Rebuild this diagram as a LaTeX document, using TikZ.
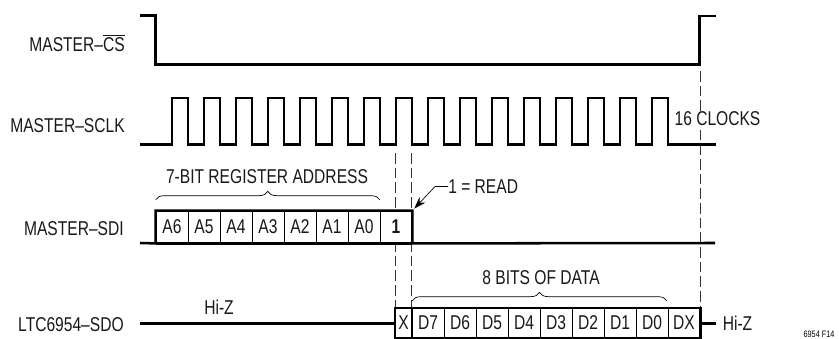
\documentclass[tikz,border=0pt]{standalone}
\usepackage{fontspec}
\setmainfont[FakeStretch=0.78]{Liberation Sans}
\usetikzlibrary{arrows.meta,decorations.pathreplacing}
\tikzset{
  sigline/.style={line width=1.9pt, black},
  guide/.style={line width=0.5pt, dash pattern=on 8pt off 3pt, black!80},
  label/.style={font=\fontsize{15}{17}\selectfont, inner sep=0pt, text=black!90},
  siglabel/.style={label, anchor=east},
  bitcell/.style={label, draw, fill=white, line width=0.6pt, minimum width=24pt, minimum height=24pt},
  sdocell/.style={bitcell, minimum height=22pt},
  bracket/.style={line width=0.5pt, decorate, decoration={brace, amplitude=6.5pt}},
}
\begin{document}
\begin{tikzpicture}[x=0.75pt,y=-0.75pt]
\useasboundingbox (0,0) rectangle (839,339);
% signal names
\node[siglabel] (csname) at (125,43) {MASTER–$\overline{\mbox{CS}}$};
\node[siglabel] (sclkname) at (125,126) {MASTER–SCLK};
\node[siglabel] (sdiname) at (124,229) {MASTER–SDI};
\node[siglabel] (sdoname) at (124,325) {LTC6954–SDO};
% dashed guides
\coordinate (guideA) at (395.5,153);
\coordinate (guideAend) at (395.5,307);
\coordinate (guideB) at (411.5,153);
\coordinate (guideBend) at (411.5,307);
\coordinate (guideC) at (700,71);
\coordinate (guideCend) at (700,307);
\draw[guide] (guideA) -- (guideAend);
\draw[guide] (guideB) -- (guideBend);
\draw[guide] (guideC) -- (guideCend);
% waveforms
\draw[sigline] (140,15.5) -- (155.5,15.5) -- (155.5,64.5) -- (699.5,64.5) -- (699.5,16) -- (716,16);
\draw[sigline] (140,144.5) -- (172,144.5) -- (172,98) -- (188,98) -- (188,144.5) -- (204,144.5) -- (204,98) -- (220,98) -- (220,144.5) -- (236,144.5) -- (236,98) -- (252,98) -- (252,144.5) -- (268,144.5) -- (268,98) -- (284,98) -- (284,144.5) -- (300,144.5) -- (300,98) -- (316,98) -- (316,144.5) -- (332,144.5) -- (332,98) -- (348,98) -- (348,144.5) -- (364,144.5) -- (364,98) -- (380,98) -- (380,144.5) -- (396,144.5) -- (396,98) -- (412,98) -- (412,144.5) -- (428,144.5) -- (428,98) -- (444,98) -- (444,144.5) -- (460,144.5) -- (460,98) -- (476,98) -- (476,144.5) -- (492,144.5) -- (492,98) -- (508,98) -- (508,144.5) -- (524,144.5) -- (524,98) -- (540,98) -- (540,144.5) -- (556,144.5) -- (556,98) -- (572,98) -- (572,144.5) -- (588,144.5) -- (588,98) -- (604,98) -- (604,144.5) -- (620,144.5) -- (620,98) -- (636,98) -- (636,144.5) -- (652,144.5) -- (652,98) -- (668,98) -- (668,144.5) -- (716,144.5);
\node[label, fill=white] (clocks) at (717.5,119) {16 CLOCKS};
% SDI bits
\node[bitcell] (a6) at (172,227) {A6};
\node[bitcell] (a5) at (204,227) {A5};
\node[bitcell] (a4) at (236,227) {A4};
\node[bitcell] (a3) at (268,227) {A3};
\node[bitcell] (a2) at (300,227) {A2};
\node[bitcell] (a1) at (332,227) {A1};
\node[bitcell] (a0) at (364,227) {A0};
\node[bitcell] (rw) at (396,227) {\bfseries 1};
\draw[sigline] (140,243) -- (a6.south west) -- (a6.north west) -- (rw.north east) -- (rw.south east) -- (715,243);
\draw[sigline] (a6.south west) -- (rw.south east);
% SDO bits
\node[sdocell, minimum width=12pt] (dz) at (403.5,323) {X};
\node[sdocell] (d7) at (428,323) {D7};
\node[sdocell] (d6) at (460,323) {D6};
\node[sdocell] (d5) at (492,323) {D5};
\node[sdocell] (d4) at (524,323) {D4};
\node[sdocell] (d3) at (556,323) {D3};
\node[sdocell] (d2) at (588,323) {D2};
\node[sdocell] (d1) at (620,323) {D1};
\node[sdocell] (d0) at (652,323) {D0};
\node[sdocell] (dx) at (684,323) {DX};
\draw[sigline] (dz.south west) rectangle (dx.north east);
\coordinate (sdostart) at (140,323.5);
\coordinate (sdostop) at (716,323.5);
\coordinate (sdoin) at (395.5,323.5);
\coordinate (sdoout) at (700,323.5);
\draw[sigline] (sdostart) -- (sdoin);
\draw[sigline] (sdoout) -- (sdostop);
\node[label] (hizl) at (219,307) {Hi-Z};
\node[label] (hizr) at (737.5,323) {Hi-Z};
% braces and notes
\coordinate (addrl) at (155.5,200);
\coordinate (addrr) at (380,200);
\coordinate (datal) at (412,301);
\coordinate (datar) at (667,301);
\draw[bracket] (addrl) -- (addrr);
\draw[bracket] (datal) -- (datar);
\node[label] (addr) at (267,177) {7-BIT REGISTER ADDRESS};
\node[label] (data) at (541,278) {8 BITS OF DATA};
\node[label, anchor=west] (read) at (448,186.5) {1 = READ};
\draw[-{Stealth[length=9pt,width=6pt]}, line width=0.5pt, shorten >=2pt] (read.west) -- (435,186.5) -- (rw.north east);
\node[font=\fontsize{7}{8}\selectfont, inner sep=0pt] (figno) at (819,334.5) {6954 F14};
\end{tikzpicture}
\end{document}
